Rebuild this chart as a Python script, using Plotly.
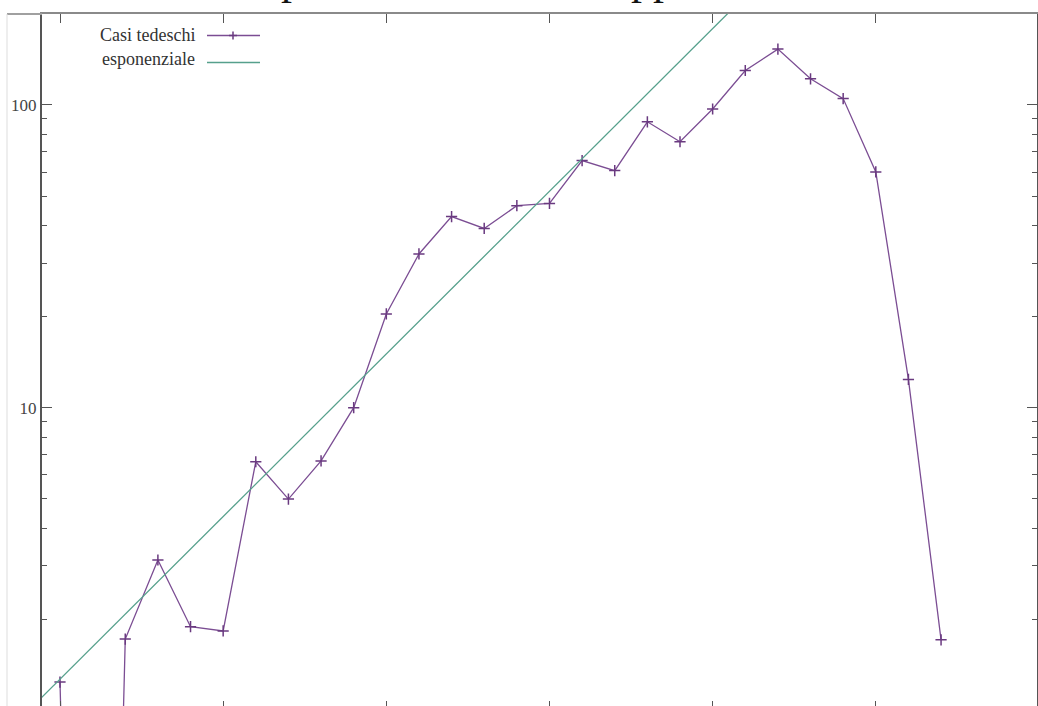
import plotly.graph_objects as go

# ---------------- data ----------------
days = list(range(28))
casi = [1.24, 0.0001, 1.72, 3.14, 1.89, 1.83, 6.63, 4.99, 6.67, 10.0,
        20.4, 32.2, 42.8, 39.1, 46.5, 47.3, 65.5, 60.7, 88.0, 75.6,
        97.0, 130.0, 153.0, 122.0, 105.0, 60.1, 12.4, 1.71]
exp_days = [-1, 21]
exp_vals = [0.99, 229.0]
x_ticks = [0, 5, 10, 15, 20, 25]
y_ticks = [1, 10, 100]
y_ticktext = ["1", "10", "100"]
legend_names = ["Casi tedeschi", "esponenziale"]
title_fragments = ["p", "pp"]

# ---------------- layout constants ----------------
W, H = 1038, 706
ML, MT, MR, MB = 42, 14, 1, 0
PW, PH = W - ML - MR, H - MT - MB
XR = [-0.5516, 29.94]
YR = [0.01454, 2.3006]
PURPLE = "#7b4d93"
TEAL = "#56a08c"
AXC = "#555555"
FONT = "Liberation Serif"


def px(xp):
    return (xp - ML) / PW


def py(yp):
    return (H - MB - yp) / PH


fig = go.Figure()
fig.add_trace(go.Scatter(
    x=days, y=casi, mode="lines+markers", name=legend_names[0],
    line=dict(color=PURPLE, width=1.3),
    marker=dict(symbol="cross-thin", size=8, color=PURPLE,
                line=dict(color="#6a3a80", width=1.5)),
    showlegend=False, cliponaxis=True))
fig.add_trace(go.Scatter(
    x=exp_days, y=exp_vals, mode="lines", name=legend_names[1],
    line=dict(color=TEAL, width=1.3), xaxis="x2",
    showlegend=False))

shapes = []
annotations = []
# legend (text left, key right, gnuplot style)
key_rows = [35.5, 62.5]
text_rows = [35.5, 59.5]
for i, name in enumerate(legend_names):
    annotations.append(dict(
        text=name, xref="paper", yref="paper", x=px(197), y=py(text_rows[i]),
        xanchor="right", yanchor="middle", showarrow=False,
        font=dict(family=FONT, size=18, color="#333333")))
shapes.append(dict(type="line", xref="paper", yref="paper",
                   x0=px(207), x1=px(260), y0=py(key_rows[0]), y1=py(key_rows[0]),
                   line=dict(color=PURPLE, width=1.3)))
cx, cy = 233, key_rows[0]
shapes.append(dict(type="path", xref="paper", yref="paper",
                   path=(f"M{px(cx-4)},{py(cy)} L{px(cx+4)},{py(cy)} "
                         f"M{px(cx)},{py(cy-4)} L{px(cx)},{py(cy+4)}"),
                   line=dict(color="#6a3a80", width=1.5)))
shapes.append(dict(type="line", xref="paper", yref="paper",
                   x0=px(207), x1=px(260), y0=py(key_rows[1]), y1=py(key_rows[1]),
                   line=dict(color=TEAL, width=1.3)))

# window border remnants
shapes.append(dict(type="line", xref="paper", yref="paper",
                   x0=px(7), x1=px(42), y0=py(14), y1=py(14),
                   line=dict(color="#a0a0a0", width=2)))
shapes.append(dict(type="line", xref="paper", yref="paper",
                   x0=px(7), x1=px(7), y0=py(14), y1=py(706),
                   line=dict(color="#dddddd", width=1)))

# cropped title (only descenders visible)
for frag, left in zip(title_fragments, [279, 629]):
    annotations.append(dict(
        text=frag, xref="paper", yref="paper", x=px(left), y=py(5.5),
        xanchor="left", yanchor="bottom", showarrow=False,
        font=dict(family=FONT, size=44, color="#111111")))

fig.update_layout(
    template="none",
    width=W, height=H,
    margin=dict(l=ML, r=MR, t=MT, b=MB, pad=0, autoexpand=False),
    paper_bgcolor="white", plot_bgcolor="white",
    showlegend=False,
    xaxis=dict(range=XR, automargin=False, showline=False, showgrid=False,
               zeroline=False, ticks="inside", ticklen=5, tickwidth=1.3,
               tickcolor=AXC, tickvals=x_ticks, showticklabels=False),
    xaxis2=dict(range=XR, automargin=False, overlaying="x", side="top",
                showline=True, linecolor="#8a8a8a", linewidth=2,
                showgrid=False, zeroline=False,
                ticks="inside", ticklen=9, tickwidth=1.3, tickcolor=AXC,
                tickvals=x_ticks, showticklabels=False),
    yaxis=dict(type="log", range=YR, automargin=False, showline=True,
               linecolor=AXC, linewidth=2,
               mirror="ticks", showgrid=False, zeroline=False,
               ticks="inside", ticklen=10, tickwidth=1.4, tickcolor=AXC,
               tickvals=y_ticks, ticktext=y_ticktext,
               tickfont=dict(family=FONT, size=17, color="#444444"),
               minor=dict(ticks="inside", ticklen=5, tickwidth=1.2,
                          tickcolor=AXC, dtick="D1", showgrid=False)),
    shapes=shapes,
    annotations=annotations,
)

fig.write_html(
    "out.html",
    config={"displayModeBar": False},
    post_script="document.body.style.margin='0';document.body.style.overflow='hidden';",
)
